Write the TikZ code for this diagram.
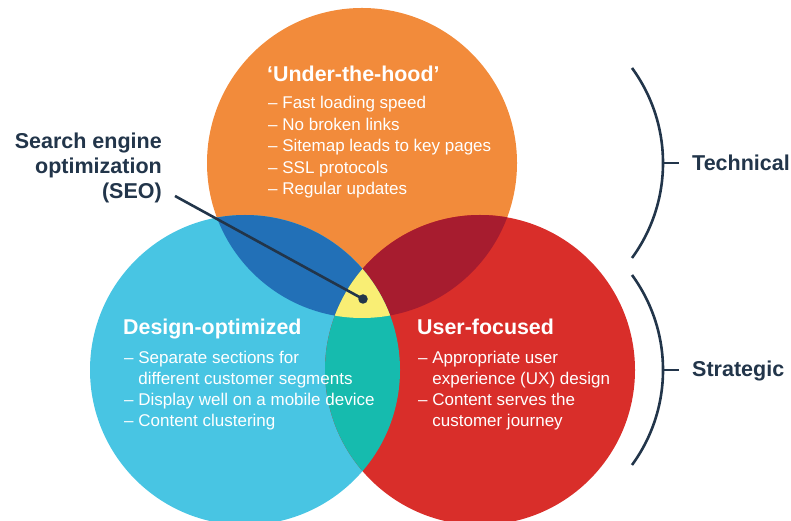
\documentclass[tikz,border=0pt]{standalone}
\usepackage{fontspec}
\setmainfont{Liberation Sans}

\definecolor{hoodorange}{HTML}{F28B3B}
\definecolor{designblue}{HTML}{48C5E3}
\definecolor{userred}{HTML}{D92E2A}
\definecolor{deepblue}{HTML}{2270B7}
\definecolor{deepred}{HTML}{A71C2F}
\definecolor{tealmix}{HTML}{16BBAE}
\definecolor{seoyellow}{HTML}{F9EE74}
\definecolor{navy}{HTML}{22354A}

\begin{document}
\begin{tikzpicture}[x=1pt,y=1pt,
  title/.style={anchor=base west, inner sep=0pt, text=white,
    font=\bfseries\fontsize{21.4}{25}\selectfont},
  % multi-line nodes: the base anchor sits on the last line
  itemlist/.style={anchor=base west, inner sep=0pt, text=white, align=left,
    font=\fontsize{17}{21.5}\selectfont},
  sidelabel/.style={inner sep=0pt, text=navy,
    font=\bfseries\fontsize{21.5}{25}\selectfont},
  pointer/.style={draw=navy, line width=2.6pt},
  brace/.style={draw=navy, line width=2.6pt},
  dot/.style={circle, fill=navy, inner sep=0pt, minimum size=9.5pt}
]
\useasboundingbox (0,0) rectangle (791,521);
\clip (0,0) rectangle (791,521);

% circle centres
\coordinate (cO) at (362,358);
\coordinate (cB) at (245,151);
\coordinate (cR) at (480,151);

% the three sets
\fill[hoodorange] (cO) circle[radius=155];
\fill[designblue] (cB) circle[radius=155];
\fill[userred] (cR) circle[radius=155];

% pairwise overlaps with the top set
\begin{scope}
  \clip (cO) circle[radius=155];
  \fill[deepblue] (cB) circle[radius=155];
  \fill[deepred] (cR) circle[radius=155];
\end{scope}

% lower overlap and the common centre
\begin{scope}
  \clip (cB) circle[radius=155];
  \fill[tealmix] (cR) circle[radius=155];
  \clip (cR) circle[radius=155];
  \fill[seoyellow] (cO) circle[radius=155];
\end{scope}

% set contents
\node[title] (hoodtitle) at (267,439) {‘Under-the-hood’};
\node[itemlist] (hoodlist) at (268,326)
  {– Fast loading speed\\– No broken links\\– Sitemap leads to key pages\\– SSL protocols\\– Regular updates};

\node[title] (designtitle) at (123,186) {Design-optimized};
\node[itemlist, font=\fontsize{17}{21.3}\selectfont] (designlist) at (124,94)
  {– Separate sections for\\\phantom{– }different customer segments\\– Display well on a mobile device\\– Content clustering};

\node[title] (usertitle) at (417,186) {User-focused};
\node[itemlist, font=\fontsize{17}{21.3}\selectfont] (userlist) at (418,94)
  {– Appropriate user\\\phantom{– }experience (UX) design\\– Content serves the\\\phantom{– }customer journey};

% SEO callout
\node[sidelabel, align=right, anchor=base east] (seo) at (162,322)
  {Search engine\\optimization\\(SEO)};
\coordinate (seostart) at (175,325);
\node[dot] (seodot) at (363,222) {};
\draw[pointer] (seostart) -- (seodot.center);

% grouping brackets
\coordinate (techtop) at (632,453);
\draw[brace] (techtop) arc[start angle=36.16, end angle=-36.16, radius=161];
\coordinate (techmid) at (663,358);
\coordinate (techtick) at (679,358);
\draw[brace] (techmid) -- (techtick);
\node[sidelabel, anchor=base west] (technical) at (692,350) {Technical};

\coordinate (strattop) at (632,246);
\draw[brace] (strattop) arc[start angle=36.16, end angle=-36.16, radius=161];
\coordinate (stratmid) at (663,151);
\coordinate (strattick) at (679,151);
\draw[brace] (stratmid) -- (strattick);
\node[sidelabel, anchor=base west] (strategic) at (692,144) {Strategic};
\end{tikzpicture}
\end{document}
